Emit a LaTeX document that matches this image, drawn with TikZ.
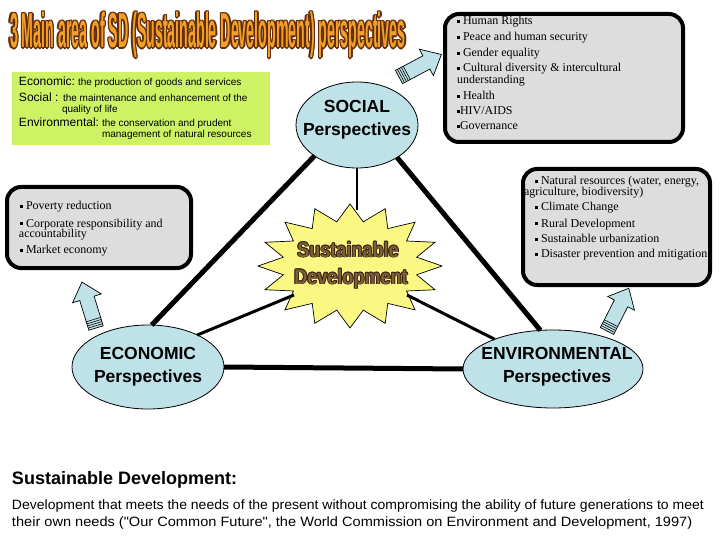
\documentclass[tikz,border=0pt]{standalone}
\usepackage{graphicx}
\usepackage{fontspec}
\setmainfont{Liberation Serif}
\setsansfont{Liberation Sans}
\newfontfamily\arial{Liberation Sans}
\newfontfamily\tnr{Liberation Serif}
\usetikzlibrary{shapes.geometric}

\definecolor{lblue}{RGB}{190,226,232}
\definecolor{lgreen}{RGB}{205,242,100}
\definecolor{boxgray}{RGB}{221,221,221}
\definecolor{staryel}{RGB}{250,248,130}
\definecolor{titleor}{RGB}{242,160,40}
\definecolor{titlebr}{RGB}{100,45,10}
\definecolor{sdbrown}{RGB}{125,95,60}
\definecolor{sddark}{RGB}{55,35,15}

\newcommand\bul{\rule[2.4pt]{3pt}{3pt}}
\newcommand\titletxt{\scalebox{0.29}[1]{\fontsize{49}{49}\selectfont\arial\bfseries 3 Main area of SD (Sustainable Development) perspectives}}
\newcommand\sdA{\scalebox{0.86}[1]{\fontsize{21}{21}\selectfont\arial\bfseries Sustainable}}
\newcommand\sdB{\scalebox{0.86}[1]{\fontsize{21}{21}\selectfont\arial\bfseries Development}}

\tikzset{
  sarrow/.pic={
    \draw[fill=lblue, line width=0.7pt, line join=miter] (0,-7.5) -- (31,-7.5) -- (31,-15) -- (48,0) -- (31,15) -- (31,7.5) -- (0,7.5) -- cycle;
    \foreach \s in {2.2,4.4,6.6,8.8} \draw[line width=0.6pt] (\s,-7.5) -- (\s,7.5);
  },
  ell/.style={ellipse, draw=black, line width=0.8pt, fill=lblue},
  gbox/.style={draw=black, line width=4pt, fill=boxgray, rounded corners=14pt},
  thickline/.style={line width=5pt},
  thinline/.style={line width=3pt},
  etxt/.style={font=\arial\bfseries\fontsize{17.5}{17.5}\selectfont, anchor=base},
  btxt/.style={font=\tnr\fontsize{12}{12}\selectfont, anchor=base west},
  bigg/.style={font=\arial\fontsize{12}{12}\selectfont, anchor=base west},
  smallg/.style={font=\arial\fontsize{10}{10}\selectfont, anchor=base west},
}

\begin{document}
\begin{tikzpicture}[x=1pt, y=-1pt, every node/.style={inner sep=0pt, outer sep=0pt}]
\fill[white] (0,0) rectangle (720,540);
\useasboundingbox (0,0) rectangle (720,540);

% title
\foreach \dx/\dy [count=\i] in {1.4/0,-1.4/0,0/1.4,0/-1.4,1/1,-1/1,1/-1,-1/-1}
  \node[anchor=base west, text=titlebr] (tb\i) at (10+\dx,48+\dy) {\titletxt};
\node[anchor=base west, text=titleor] (title) at (10,48) {\titletxt};

% definitions box
\node[fill=lgreen, minimum width=258pt, minimum height=73pt, anchor=north west] (defbox) at (12,72) {};
\node[bigg] (ecoL) at (19,86) {Economic:};
\node[smallg] (ecoD) at (78,86) {the production of goods and services};
\node[bigg] (socL) at (19,102) {Social :};
\node[smallg] (socD1) at (63,102) {the maintenance and enhancement of the};
\node[smallg] (socD2) at (62,113) {quality of life};
\node[bigg] (envL) at (19,127) {Environmental:};
\node[smallg] (envD1) at (102,127) {the conservation and prudent};
\node[smallg] (envD2) at (102,138) {management of natural resources};

% striped arrows
\pic[rotate=28] at (399,77) {sarrow};
\pic[rotate=107] at (96,328) {sarrow};
\pic[rotate=63] at (607,331) {sarrow};

% ellipses
\node[ell, minimum width=122pt, minimum height=86pt] (soc) at (357,125) {};
\node[ell, minimum width=152pt, minimum height=84pt] (eco) at (148,367) {};
\node[ell, minimum width=180pt, minimum height=78pt] (env) at (553,369) {};

% star
\draw[fill=staryel, line width=0.7pt, line join=miter]
  plot[samples=33, domain=0:32, variable=\k] ({350+(92-24*mod(\k,2))*cos(\k*11.25)}, {266+(62-17*mod(\k,2))*sin(\k*11.25)}) -- cycle;
\coordinate (sdN) at (357,210);
\coordinate (sdL) at (294,295);
\coordinate (sdR) at (407,295);

% connectors
\draw[thickline] (soc.216) -- (eco.85);
\draw[thickline] (soc.321) -- (env.108);
\draw[thickline] (eco.0) -- (env.180);
\draw[line width=2.5pt] (soc.south) -- (sdN);
\draw[thinline] (eco.33) -- (sdL);
\draw[thinline] (env.153) -- (sdR);

% ellipse texts
\node[etxt] (socT1) at (357,113) {SOCIAL};
\node[etxt] (socT2) at (357,136) {Perspectives};
\node[etxt] (ecoT1) at (148,359) {ECONOMIC};
\node[etxt] (ecoT2) at (148,382) {Perspectives};
\node[etxt] (envT1) at (557,359) {ENVIRONMENTAL};
\node[etxt] (envT2) at (557,382) {Perspectives};

% star text
\foreach \dx/\dy [count=\i] in {0.9/0,-0.9/0,0/0.9,0/-0.9,0.65/0.65,-0.65/0.65,0.65/-0.65,-0.65/-0.65}{
  \node[anchor=base, text=sddark] (sa\i) at (348+\dx,257+\dy) {\sdA};
  \node[anchor=base, text=sddark] (sb\i) at (351+\dx,284+\dy) {\sdB};
}
\node[anchor=base, text=sdbrown] (sdt1) at (348,257) {\sdA};
\node[anchor=base, text=sdbrown] (sdt2) at (351,284) {\sdB};

% gray boxes
\node[gbox, minimum width=238pt, minimum height=128pt] (socbox) at (564,78) {};
\node[gbox, minimum width=184pt, minimum height=81pt] (ecobox) at (99,227.5) {};
\node[gbox, minimum width=187pt, minimum height=116pt] (envbox) at (616.5,227) {};

% social box text
\node[btxt] (s1) at (457,25) {\bul\ Human Rights};
\node[btxt] (s2) at (457,41) {\bul\ Peace and human security};
\node[btxt] (s3) at (457,57) {\bul\ Gender equality};
\node[btxt] (s4) at (457,72) {\bul\ Cultural diversity \& intercultural};
\node[btxt] (s5) at (457,84) {understanding};
\node[btxt] (s6) at (457,100) {\bul\ Health};
\node[btxt] (s7) at (457,115) {\bul HIV/AIDS};
\node[btxt] (s8) at (457,130) {\bul Governance};

% economic box text
\node[btxt] (e1) at (20,210) {\bul\ Poverty reduction};
\node[btxt] (e2) at (20,227) {\bul\ Corporate responsibility and};
\node[btxt] (e3) at (19,237) {accountability};
\node[btxt] (e4) at (20,254) {\bul\ Market economy};

% environmental box text
\node[btxt] (v1) at (535,185) {\bul\ Natural resources (water, energy,};
\node[btxt] (v2) at (524,196) {agriculture, biodiversity)};
\node[btxt] (v3) at (535,211) {\bul\ Climate Change};
\node[btxt] (v4) at (535,227) {\bul\ Rural Development};
\node[btxt] (v5) at (535,243) {\bul\ Sustainable urbanization};
\node[btxt] (v6) at (535,258) {\bul\ Disaster prevention and mitigation};

% bottom definition
\node[anchor=base west, font=\arial\bfseries\fontsize{18}{18}\selectfont] (sdh) at (12,484) {Sustainable Development:};
\node[anchor=base west, font=\arial\fontsize{13.5}{13.5}\selectfont] (sdl1) at (12,509) {\scalebox{1.037}[1]{Development that meets the needs of the present without compromising the ability of future generations to meet}};
\node[anchor=base west, font=\arial\fontsize{13.5}{13.5}\selectfont] (sdl2) at (12,526) {\scalebox{1.08}[1]{their own needs ("Our Common Future", the World Commission on Environment and Development, 1997)}};
\end{tikzpicture}
\end{document}
